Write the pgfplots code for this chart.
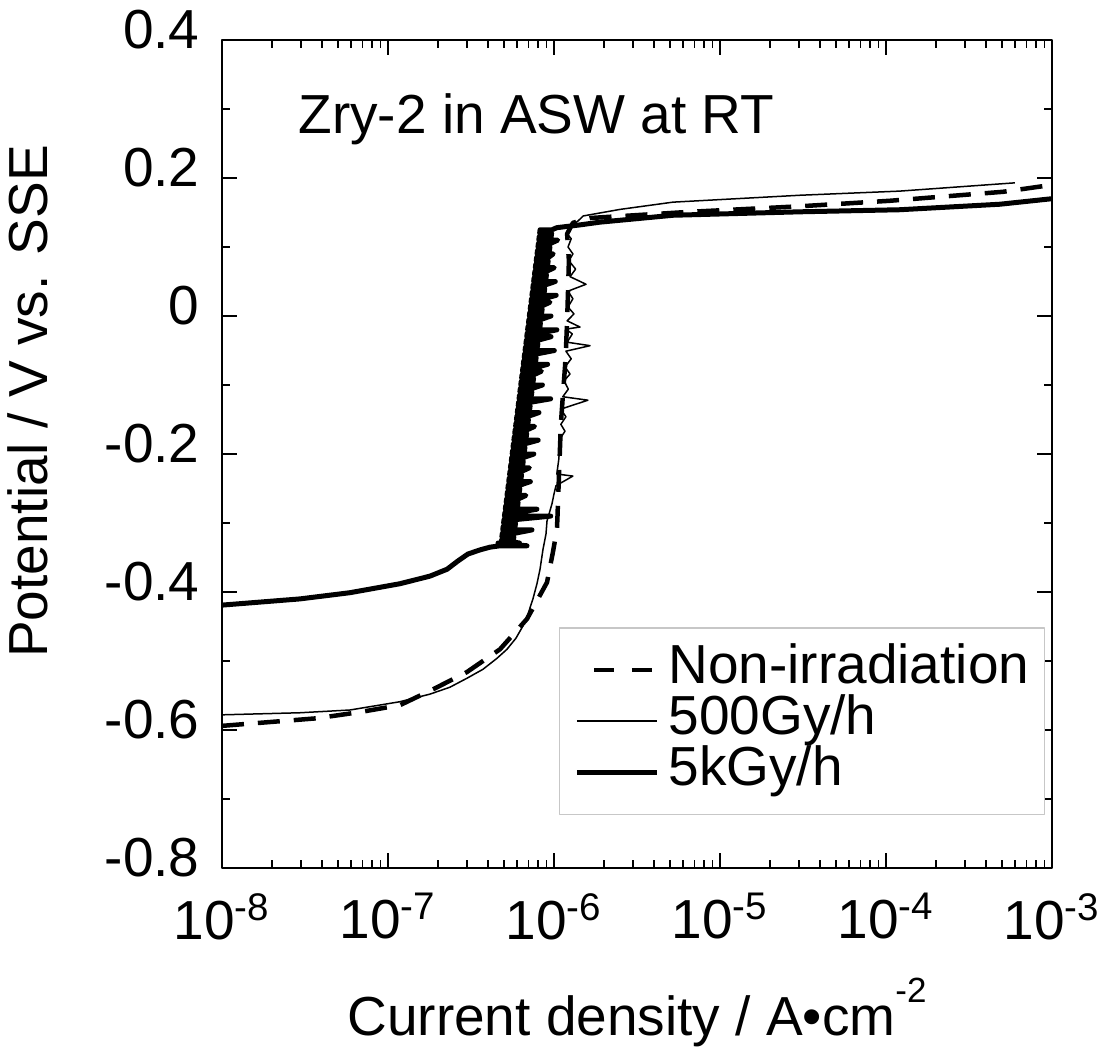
\documentclass[border=0pt]{standalone}
\usepackage{pgfplots}
\pgfplotsset{compat=1.18}
\usepackage{fontspec}
\setmainfont{Liberation Sans}

\pgfplotstableread{
x y
1e-8 -0.594
3.735e-8 -0.583
6.78e-8 -0.574
1.18e-7 -0.564
1.87e-7 -0.541
2.99e-7 -0.516
4.73e-7 -0.483
6.88e-7 -0.439
9.08e-7 -0.386
9.86e-7 -0.342
1.042e-6 -0.309
1.05e-6 -0.290
1.07e-6 -0.236
1.10e-6 -0.157
1.13e-6 -0.117
1.165e-6 -0.074
1.18e-6 -0.050
1.20e-6 -0.007
1.215e-6 0.036
1.23e-6 0.080
1.215e-6 0.100
1.20e-6 0.119
1.30e-6 0.135
1.65e-6 0.142
6.60e-6 0.151
3.03e-5 0.159
1.057e-4 0.167
5.07e-4 0.180
1e-3 0.190
}\nonirr

\pgfplotstableread{
x y
1e-8 -0.578
2.95e-8 -0.575
5.90e-8 -0.571
1.18e-7 -0.559
1.79e-7 -0.548
2.36e-7 -0.538
2.99e-7 -0.525
3.735e-7 -0.512
4.54e-7 -0.496
5.21e-7 -0.483
5.90e-7 -0.467
6.51e-7 -0.449
6.97e-7 -0.432
7.47e-7 -0.410
7.90e-7 -0.388
8.24e-7 -0.367
8.59e-7 -0.338
8.95e-7 -0.316
9.08e-7 -0.297
9.73e-7 -0.272
1.00e-6 -0.258
1.028e-6 -0.246
1.30e-6 -0.232
1.04e-6 -0.229
1.07e-6 -0.207
1.087e-6 -0.178
1.165e-6 -0.167
1.10e-6 -0.157
1.18e-6 -0.146
1.10e-6 -0.135
1.60e-6 -0.122
1.13e-6 -0.117
1.22e-6 -0.106
1.15e-6 -0.094
1.25e-6 -0.084
1.165e-6 -0.074
1.27e-6 -0.062
1.18e-6 -0.051
1.65e-6 -0.043
1.20e-6 -0.038
1.29e-6 -0.026
1.18e-6 -0.019
1.435e-6 -0.016
1.20e-6 -0.007
1.32e-6 0.003
1.215e-6 0.013
1.30e-6 0.025
1.215e-6 0.036
1.56e-6 0.046
1.25e-6 0.057
1.35e-6 0.068
1.23e-6 0.080
1.30e-6 0.090
1.215e-6 0.100
1.27e-6 0.112
1.20e-6 0.119
1.25e-6 0.129
1.40e-6 0.138
1.50e-6 0.145
2.50e-6 0.1545
5.21e-6 0.165
3.03e-5 0.175
1.21e-4 0.181
5.98e-4 0.193
}\lowdose

\pgfplotstableread{
x y
1e-8 -0.419
2.95e-8 -0.410
5.90e-8 -0.401
1.18e-7 -0.388
1.79e-7 -0.377
2.27e-7 -0.367
2.64e-7 -0.355
3.03e-7 -0.345
3.58e-7 -0.339
4.12e-7 -0.335
4.73e-7 -0.333
6.88e-7 -0.333
4.60e-7 -0.329
6.20e-7 -0.329
4.826e-7 -0.325
5.695e-7 -0.325
5.729e-7 -0.320
4.855e-7 -0.320
4.884e-7 -0.315
5.763e-7 -0.315
7.370e-7 -0.310
4.913e-7 -0.310
4.942e-7 -0.305
5.832e-7 -0.305
5.867e-7 -0.300
4.972e-7 -0.300
5.001e-7 -0.295
5.901e-7 -0.295
9.559e-7 -0.290
5.031e-7 -0.290
5.061e-7 -0.285
5.972e-7 -0.285
7.891e-7 -0.280
5.091e-7 -0.280
5.122e-7 -0.275
6.044e-7 -0.275
6.079e-7 -0.270
5.152e-7 -0.270
5.183e-7 -0.265
6.116e-7 -0.265
6.778e-7 -0.260
5.214e-7 -0.260
5.245e-7 -0.255
6.189e-7 -0.255
6.226e-7 -0.250
5.276e-7 -0.250
5.308e-7 -0.245
6.263e-7 -0.245
7.208e-7 -0.240
5.339e-7 -0.240
5.371e-7 -0.235
6.338e-7 -0.235
6.376e-7 -0.230
5.403e-7 -0.230
5.436e-7 -0.225
6.414e-7 -0.225
7.108e-7 -0.220
5.468e-7 -0.220
5.501e-7 -0.215
6.491e-7 -0.215
6.530e-7 -0.210
5.534e-7 -0.210
5.567e-7 -0.205
6.569e-7 -0.205
7.560e-7 -0.200
5.600e-7 -0.200
5.633e-7 -0.195
6.647e-7 -0.195
6.687e-7 -0.190
5.667e-7 -0.190
5.701e-7 -0.185
6.727e-7 -0.185
8.029e-7 -0.180
5.735e-7 -0.180
5.769e-7 -0.175
6.807e-7 -0.175
6.848e-7 -0.170
5.803e-7 -0.170
5.838e-7 -0.165
6.889e-7 -0.165
7.635e-7 -0.160
5.873e-7 -0.160
5.908e-7 -0.155
6.971e-7 -0.155
7.013e-7 -0.150
5.943e-7 -0.150
5.979e-7 -0.145
7.055e-7 -0.145
8.120e-7 -0.140
6.015e-7 -0.140
6.051e-7 -0.135
7.140e-7 -0.135
7.183e-7 -0.130
6.087e-7 -0.130
6.123e-7 -0.125
7.225e-7 -0.125
9.548e-7 -0.120
6.160e-7 -0.120
6.197e-7 -0.115
7.312e-7 -0.115
7.356e-7 -0.110
6.234e-7 -0.110
6.271e-7 -0.105
7.400e-7 -0.105
8.516e-7 -0.100
6.308e-7 -0.100
6.346e-7 -0.095
7.488e-7 -0.095
7.533e-7 -0.090
6.384e-7 -0.090
6.422e-7 -0.085
7.578e-7 -0.085
8.398e-7 -0.080
6.460e-7 -0.080
6.499e-7 -0.075
7.669e-7 -0.075
9.153e-7 -0.070
6.538e-7 -0.070
6.577e-7 -0.065
7.761e-7 -0.065
7.807e-7 -0.060
6.616e-7 -0.060
6.656e-7 -0.055
7.854e-7 -0.055
10.044e-7 -0.050
6.696e-7 -0.050
6.736e-7 -0.045
7.948e-7 -0.045
7.996e-7 -0.040
6.776e-7 -0.040
6.816e-7 -0.035
8.043e-7 -0.035
9.600e-7 -0.030
6.857e-7 -0.030
6.898e-7 -0.025
8.140e-7 -0.025
10.409e-7 -0.020
6.939e-7 -0.020
6.981e-7 -0.015
8.238e-7 -0.015
8.286e-7 -0.010
7.022e-7 -0.010
7.064e-7 -0.005
8.336e-7 -0.005
9.594e-7 0.000
7.107e-7 0.000
7.149e-7 0.005
8.436e-7 0.005
8.487e-7 0.010
7.192e-7 0.010
7.235e-7 0.015
8.537e-7 0.015
9.461e-7 0.020
7.278e-7 0.020
7.322e-7 0.025
8.640e-7 0.025
10.311e-7 0.030
7.365e-7 0.030
7.409e-7 0.035
8.743e-7 0.035
8.796e-7 0.040
7.454e-7 0.040
7.498e-7 0.045
8.848e-7 0.045
10.183e-7 0.050
7.543e-7 0.050
7.588e-7 0.055
8.954e-7 0.055
9.008e-7 0.060
7.634e-7 0.060
7.679e-7 0.065
9.061e-7 0.065
10.043e-7 0.070
7.725e-7 0.070
7.771e-7 0.075
9.170e-7 0.075
9.225e-7 0.080
7.818e-7 0.080
7.865e-7 0.085
9.281e-7 0.085
9.890e-7 0.090
7.912e-7 0.090
7.959e-7 0.095
9.392e-7 0.095
9.448e-7 0.100
8.007e-7 0.100
8.055e-7 0.105
9.505e-7 0.105
10.534e-7 0.110
8.103e-7 0.110
8.151e-7 0.115
9.618e-7 0.115
9.676e-7 0.120
8.200e-7 0.120
8.249e-7 0.125
9.734e-7 0.125
1.04e-6 0.128
1.43e-6 0.132
1.89e-6 0.136
5.21e-6 0.146
3.03e-5 0.151
1.21e-4 0.154
4.86e-4 0.162
1e-3 0.170
}\highdose

\begin{document}
\begin{tikzpicture}
\begin{axis}[
  scale only axis, width=332pt, height=331.2pt,
  xmode=log, xmin=1e-8, xmax=1e-3, ymin=-0.8, ymax=0.4,
  xtick={1e-8,1e-7,1e-6,1e-5,1e-4,1e-3},
  xticklabels={10\textsuperscript{-8},10\textsuperscript{-7},10\textsuperscript{-6},10\textsuperscript{-5},10\textsuperscript{-4},10\textsuperscript{-3}},
  ytick={-0.8,-0.6,-0.4,-0.2,0,0.2,0.4},
  yticklabels={-0.8,-0.6,-0.4,-0.2,0,0.2,0.4},
  minor ytick={-0.7,-0.5,-0.3,-0.1,0.1,0.3},
  xtick pos=both, ytick pos=both,
  xticklabel pos=lower, yticklabel pos=left,
  tick align=inside,
  major tick length=6pt, minor tick length=3.2pt,
  axis line style={line width=0.6pt},
  every tick/.style={black, line width=0.6pt},
  tick label style={font=\fontsize{22}{26}\selectfont},
  xticklabel style={anchor=north, inner sep=0pt, yshift=-10pt},
  yticklabel style={anchor=east, inner sep=0pt, xshift=-8.8pt, yshift=4pt},
  label style={font=\fontsize{22}{26}\selectfont},
  xlabel={Current density / A•cm\raisebox{13.2pt}{\fontsize{14}{14}\selectfont -2}},
  xlabel style={at={(axis description cs:0.5,0)}, anchor=base, inner sep=0pt, yshift=-66.8pt},
  ylabel={Potential / V vs. SSE},
  ylabel style={at={(axis description cs:-0.2108,0.5634)}, anchor=base, inner sep=0pt},
  legend style={at={(0.9916,0.064)}, anchor=south east, draw=black!22, line width=0.6pt,
    font=\fontsize{22}{26}\selectfont, inner xsep=6pt, inner ysep=6.5pt, row sep=0pt,
    nodes={inner sep=0pt, text height=15.5pt, text depth=5pt}},
  legend cell align=left,
  legend image code/.code={\draw[#1] (0pt,0pt) -- (32pt,0pt);},
  line join=round,
]
\addplot[black, line width=1.8pt, dash pattern=on 8.8pt off 5.6pt,
  legend image code/.code={\draw[line width=1.8pt] (7pt,0pt) -- (15pt,0pt) (22pt,0pt) -- (30pt,0pt);}]
  table[x=x,y=y] {\nonirr};
\addlegendentry{\,Non-irradiation}
\addplot[black, line width=0.6pt] table[x=x,y=y] {\lowdose};
\addlegendentry{\,500Gy/h}
\addplot[black, line width=2pt] table[x=x,y=y] {\highdose};
\addlegendentry{\,5kGy/h}
\node[anchor=base west, inner sep=0pt, font=\fontsize{22}{26}\selectfont] at (rel axis cs:0.0916,0.8865) {Zry-2 in ASW at RT};
\end{axis}
\pgfresetboundingbox
\path[use as bounding box] ([xshift=-88.8pt,yshift=-71.6pt]current axis.south west) rectangle ([xshift=21.2pt,yshift=16pt]current axis.north east);
\end{tikzpicture}
\end{document}
